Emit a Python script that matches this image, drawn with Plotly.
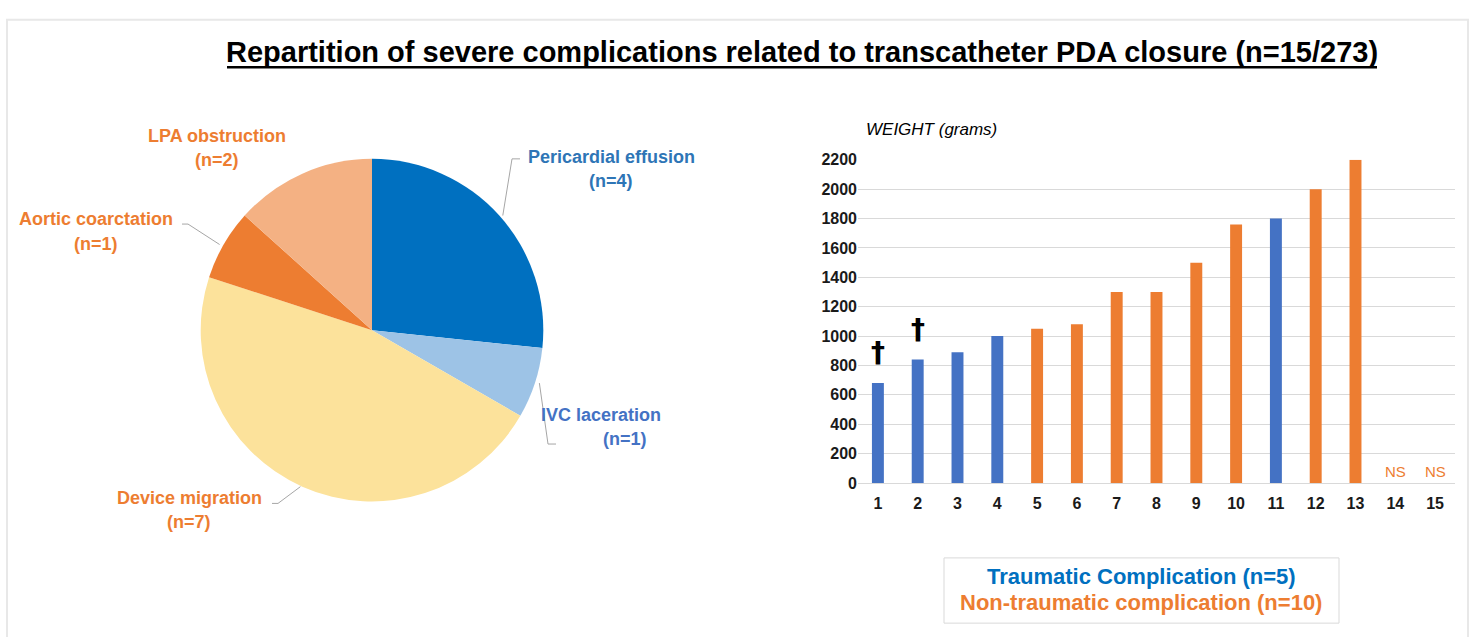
import math
import plotly.graph_objects as go

W, H = 1473, 637

# ---------------- data ----------------
pie_labels = ["Pericardial effusion", "IVC laceration", "Device migration",
              "Aortic coarctation", "LPA obstruction"]
pie_counts = [4, 1, 7, 1, 2]
pie_colors = ["#0070C0", "#9DC3E6", "#FCE29B", "#ED7D31", "#F4B183"]
pie_text_colors = ["#2E75B6", "#4472C4", "#ED7D31", "#ED7D31", "#ED7D31"]

patients = list(range(1, 16))
weights = [680, 840, 890, 1000, 1050, 1080, 1300, 1300, 1500, 1760, 1800, 2000, 2200, None, None]
groups = ["T", "T", "T", "T", "N", "N", "N", "N", "N", "N", "T", "N", "N", "N", "N"]
deceased = [1, 2]
not_specified = [14, 15]
y_ticks = list(range(0, 2201, 200))

BLUE = "#4472C4"
ORANGE = "#ED7D31"
FONT = "Liberation Sans, Arial, sans-serif"

def px(x):
    return x / W

def py(y):
    return 1 - y / H

fig = go.Figure()

# ---------------- pie ----------------
pcx, pcy, pr = 372, 331, 176
fig.add_trace(go.Pie(
    labels=pie_labels, values=pie_counts, sort=False, direction="clockwise",
    rotation=0, marker=dict(colors=pie_colors, line=dict(width=0)),
    textinfo="none", hoverinfo="label+value", showlegend=False,
    domain=dict(x=[px(pcx - pr), px(pcx + pr)], y=[py(pcy + pr), py(pcy - pr)]),
))

# pie label positions (text centres) and leader line elbows
label_pos = {
    "Pericardial effusion": (611, 153, [(512, 155), (520, 155)]),
    "IVC laceration": (601, 418, [(548, 448), (556, 448)]),
    "Device migration": (189, 503, [(278, 509), (272, 509)]),
    "Aortic coarctation": (96, 217, [(188, 222), (182, 222)]),
    "LPA obstruction": (217, 131, None),
}
nudge = {"IVC laceration": 24}

total = sum(pie_counts)
cum = 0
shapes = []
annotations = []
for lab, cnt, tc in zip(pie_labels, pie_counts, pie_text_colors):
    mid = (cum + cnt / 2) / total * 2 * math.pi
    cum += cnt
    tx, ty, elbow = label_pos[lab]
    annotations.append(dict(
        x=px(tx), y=py(ty), xref="paper", yref="paper", showarrow=False,
        text=f"<b>{lab}</b>", font=dict(family=FONT, size=18, color=tc),
        xanchor="center", yanchor="middle"))
    annotations.append(dict(
        x=px(tx + nudge.get(lab, 0)), y=py(ty + 25), xref="paper", yref="paper", showarrow=False,
        text=f"<b>(n={cnt})</b>", font=dict(family=FONT, size=18, color=tc),
        xanchor="center", yanchor="middle"))
    if elbow:
        sx = pcx + pr * math.sin(mid)
        sy = pcy - pr * math.cos(mid)
        pts = [(sx, sy)] + elbow
        path = "M " + " L ".join(f"{px(a)},{py(b)}" for a, b in pts)
        shapes.append(dict(type="path", xref="paper", yref="paper", path=path,
                           line=dict(color="#A6A6A6", width=1)))

# ---------------- bars ----------------
bar_colors = [BLUE if g == "T" else ORANGE for g in groups]
fig.add_trace(go.Bar(
    x=patients, y=weights, marker=dict(color=bar_colors, line=dict(width=0)),
    width=0.3, showlegend=False, xaxis="x", yaxis="y",
))

for p in deceased:
    annotations.append(dict(
        x=p, y=weights[patients.index(p)], xref="x", yref="y", showarrow=False,
        text="<b>†</b>", font=dict(family="DejaVu Sans, sans-serif", size=28, color="#000000"),
        xanchor="center", yanchor="bottom", yshift=12))
for p in not_specified:
    annotations.append(dict(
        x=p, y=0, xref="x", yref="y", showarrow=False, text="NS",
        font=dict(family=FONT, size=15, color=ORANGE),
        xanchor="center", yanchor="bottom", yshift=1))

annotations.append(dict(
    x=px(864), y=py(125), xref="paper", yref="paper", showarrow=False,
    text="<i>WEIGHT (grams)</i>", font=dict(family=FONT, size=17, color="#000000"),
    xanchor="left", yanchor="middle"))

# title
annotations.append(dict(
    x=px(802), y=py(45), xref="paper", yref="paper", showarrow=False,
    text="<b>Repartition of severe complications related to transcatheter PDA closure (n=15/273)</b>",
    font=dict(family="Liberation Sans Narrow, Arial Narrow, Liberation Sans, sans-serif", size=29, color="#000000"),
    xanchor="center", yanchor="middle"))
shapes.append(dict(type="line", xref="paper", yref="paper",
                   x0=px(227), x1=px(1377), y0=py(61), y1=py(61),
                   line=dict(color="#000000", width=2.5)))

# legend box
shapes.append(dict(type="rect", xref="paper", yref="paper",
                   x0=px(944), x1=px(1339), y0=py(632), y1=py(565),
                   line=dict(color="#D9D9D9", width=1)))
annotations.append(dict(
    x=px(1141), y=py(584), xref="paper", yref="paper", showarrow=False,
    text="<b>Traumatic Complication (n=5)</b>", font=dict(family=FONT, size=22, color="#0070C0"),
    xanchor="center", yanchor="middle"))
annotations.append(dict(
    x=px(1141), y=py(611), xref="paper", yref="paper", showarrow=False,
    text="<b>Non-traumatic complication (n=10)</b>", font=dict(family=FONT, size=22, color=ORANGE),
    xanchor="center", yanchor="middle"))

# outer frame
shapes.append(dict(type="rect", xref="paper", yref="paper",
                   x0=px(7), x1=px(1468), y0=py(660), y1=py(12),
                   line=dict(color="#E8E8E8", width=2)))

fig.update_layout(
    width=W, height=H, margin=dict(l=0, r=0, t=0, b=0),
    paper_bgcolor="#FFFFFF", plot_bgcolor="#FFFFFF",
    font=dict(family=FONT),
    xaxis=dict(domain=[px(858), px(1455)], range=[0.5, 15.5], showgrid=False,
               tickvals=patients, ticktext=[f"<b>{p}</b>" for p in patients],
               showline=True, linecolor="#D9D9D9", ticks="", zeroline=False,
               tickfont=dict(family=FONT, size=16, color="#1A1A1A"),
               ticklabelstandoff=6),
    yaxis=dict(domain=[py(488), py(156)], range=[0, 2200], tickvals=y_ticks,
               ticktext=[f"<b>{v}</b>" for v in y_ticks],
               showgrid=True, gridcolor="#D9D9D9", gridwidth=1, zeroline=False,
               showline=False, ticks="", tickfont=dict(family=FONT, size=16, color="#1A1A1A")),
    shapes=shapes, annotations=annotations,
)

fig.write_html("out.html", config={"displayModeBar": False},
               post_script="document.body.style.margin='0';document.body.style.overflow='hidden';")
